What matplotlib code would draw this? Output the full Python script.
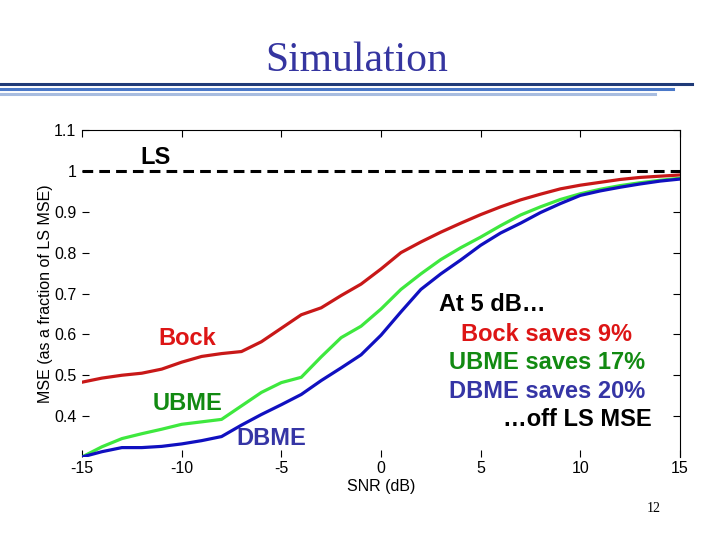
import matplotlib
matplotlib.use("Agg")
import matplotlib.pyplot as plt
from matplotlib.lines import Line2D

plt.rcParams['font.family'] = ['Liberation Sans', 'DejaVu Sans']
plt.rcParams['axes.unicode_minus'] = False

# SNR grid (dB)
snr = [-15, -14, -13, -12, -11, -10, -9, -8, -7, -6, -5, -4, -3, -2, -1, 0,
       1, 2, 3, 4, 5, 6, 7, 8, 9, 10, 11, 12, 13, 14, 15]

# MSE as fraction of LS MSE
bock = [0.483, 0.493, 0.500, 0.505, 0.515, 0.532, 0.546, 0.553, 0.558, 0.582, 0.615,
        0.648, 0.665, 0.695, 0.723, 0.760, 0.800, 0.826, 0.850, 0.872, 0.893,
        0.912, 0.929, 0.943, 0.956, 0.965, 0.972, 0.979, 0.984, 0.987, 0.990]
ubme = [0.300, 0.325, 0.345, 0.357, 0.368, 0.380, 0.386, 0.392, 0.425, 0.458, 0.482,
        0.495, 0.545, 0.592, 0.620, 0.662, 0.710, 0.748, 0.783, 0.812, 0.838,
        0.866, 0.892, 0.912, 0.930, 0.944, 0.955, 0.964, 0.971, 0.977, 0.982]
dbme = [0.300, 0.313, 0.323, 0.323, 0.326, 0.332, 0.340, 0.350, 0.378, 0.404, 0.428,
        0.453, 0.487, 0.518, 0.550, 0.598, 0.655, 0.710, 0.748, 0.782, 0.818,
        0.848, 0.872, 0.898, 0.920, 0.940, 0.951, 0.960, 0.968, 0.975, 0.980]
ls_snr = [-15, 15]
ls = [1.0, 1.0]

xticks = [-15, -10, -5, 0, 5, 10, 15]
yticks = [0.4, 0.5, 0.6, 0.7, 0.8, 0.9, 1.0, 1.1]
yticklabels = ['0.4', '0.5', '0.6', '0.7', '0.8', '0.9', '1', '1.1']

fig = plt.figure(figsize=(7.2, 5.4), dpi=100)

# slide title and rules
fig.text(0.496, 0.888, "Simulation", family='Liberation Serif', fontsize=30,
         color='#3535a0', ha='center', va='center')
for yy, x1, c in [(84, 692, '#1f3a78'), (89, 673, '#4a78c8'), (94, 655, '#a8bde0')]:
    fig.add_artist(Line2D([0, x1 / 720], [1 - yy / 540, 1 - yy / 540],
                          color=c, lw=2.2, transform=fig.transFigure))

ax = fig.add_axes([82 / 720, 1 - 457 / 540, 598 / 720, 327 / 540])
ax.plot(ls_snr, ls, color='black', lw=2.2, ls=(0, (3.5, 2.0)))
ax.plot(snr, bock, color='#c81818', lw=2.3)
ax.plot(snr, ubme, color='#3ee83e', lw=2.3)
ax.plot(snr, dbme, color='#1010c0', lw=2.3)

ax.set_xlim(-15, 15)
ax.set_ylim(0.3, 1.1)
ax.set_xticks(xticks)
ax.set_yticks(yticks)
ax.set_yticklabels(yticklabels)
ax.tick_params(direction='in', length=5, top=True, right=True, labelsize=11.5)
ax.tick_params(axis='y', pad=4)
ax.tick_params(axis='x', pad=3)
ax.spines['left'].set_visible(False)
ax.spines['bottom'].set_visible(False)
ax.set_xlabel("SNR (dB)", fontsize=11.5, labelpad=2)
ax.set_ylabel("MSE (as a fraction of LS MSE)", fontsize=11.5, labelpad=1)

# curve labels
ax.text(-11.3, 1.033, "LS", fontsize=17, fontweight='bold', color='black', ha='center', va='center')
ax.text(-9.7, 0.591, "Bock", fontsize=17, fontweight='bold', color='#dd1515', ha='center', va='center')
ax.text(-9.7, 0.430, "UBME", fontsize=17, fontweight='bold', color='#128a12', ha='center', va='center')
ax.text(-5.5, 0.345, "DBME", fontsize=17, fontweight='bold', color='#3535a5', ha='center', va='center')

# annotation block
ax.text(5.6, 0.673, "At 5 dB…", fontsize=17, fontweight='bold', color='black', ha='center', va='center')
ax.text(12.6, 0.600, "Bock saves 9%", fontsize=17, fontweight='bold', color='#dd1515', ha='right', va='center')
ax.text(13.25, 0.531, "UBME saves 17%", fontsize=17, fontweight='bold', color='#128a12', ha='right', va='center')
ax.text(13.25, 0.460, "DBME saves 20%", fontsize=17, fontweight='bold', color='#3535a5', ha='right', va='center')
ax.text(13.6, 0.391, "…off LS MSE", fontsize=17, fontweight='bold', color='black', ha='right', va='center')

fig.text(654 / 720, 1 - 508 / 540, "12", family='Liberation Serif', fontsize=10,
         color='black', ha='center', va='center')

fig.savefig("out.png", dpi=100)
